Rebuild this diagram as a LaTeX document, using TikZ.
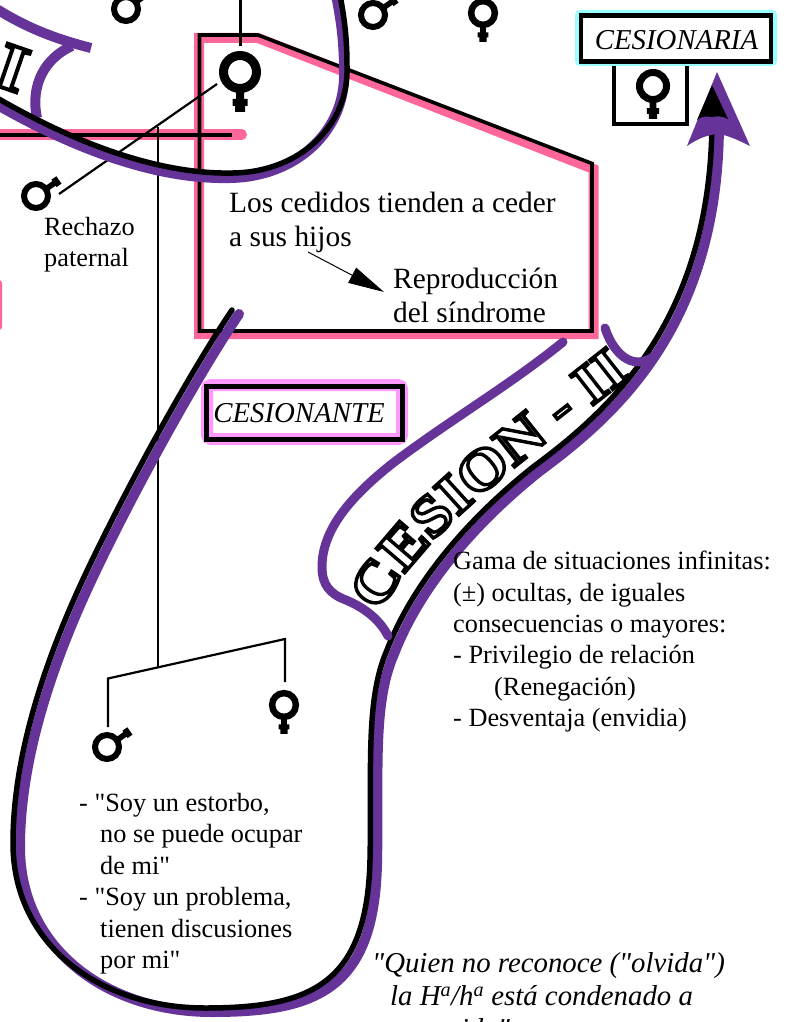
\documentclass[tikz,border=0pt]{standalone}
\usepackage{fontspec}
\setmainfont{Liberation Serif}[Ligatures=TeXOff]
\newfontfamily\engfont[FakeStretch=1.12,FakeBold=6]{Liberation Serif Bold}
\usetikzlibrary{arrows.meta,decorations.text}
\definecolor{band}{HTML}{663399}
\definecolor{rosa}{HTML}{FF6699}
\definecolor{halo}{HTML}{99FFFF}
\definecolor{lila}{HTML}{FF99FF}
\tikzset{
  x=1pt,y=-1pt,
  ink/.style={black,line width=5.5pt,line cap=round,line join=round},
  bandline/.style={band,line width=10pt,line cap=round,line join=round},
  thin link/.style={black,line width=2.2pt},
  body/.style={font=\fontsize{26.3}{31.4}\selectfont,align=left,anchor=north west,inner sep=0pt},
  bigbody/.style={font=\fontsize{29.4}{34}\selectfont,align=left,anchor=north west,inner sep=0pt},
  tag/.style={font=\fontsize{28.8}{34}\selectfont\itshape,inner sep=0pt},
  pics/venus/.style={code={
    \draw[black,line width=#1pt] (0,0) circle (16.5);
    \fill[black] (-4,18) rectangle (4,34) (-7.5,27) rectangle (7.5,34) (-5,34) rectangle (5,40);
  }},
  pics/mars/.style={code={
    \draw[black,line width=6pt] (0,0) circle (12);
    \fill[black,rotate=35] (10,-2.8) rectangle (28,2.8) (22,-4.5) rectangle (28,4.5);
  }},
}
\newcommand{\inl}{\special{pdf:code 1 g 0 G}}
\newcommand{\bigcurve}{(232,310) .. controls (190,372) and (125,490) .. (85,575)
  .. controls (45,660) and (13,755) .. (13,843)
  .. controls (13,945) and (100,1008) .. (205,1008)
  .. controls (310,1008) and (367,985) .. (370,860)
  .. controls (372,770) and (365,700) .. (387,650)
  .. controls (410,590) and (460,525) .. (533,467)
  .. controls (610,410) and (712,320) .. (712,118)}
\newcommand{\topcurve}{(-8,95) .. controls (60,135) and (150,175) .. (233,173)
  .. controls (300,172) and (349,125) .. (347,67) .. controls (347,40) and (345,20) .. (339,-10)}
\begin{document}
\begin{tikzpicture}
\clip (0,0) rectangle (795,1022);
\fill[white] (0,0) rectangle (795,1022);
% named points
\coordinate (pa) at (0,134.5);
\coordinate (pb) at (242,134.5);
\coordinate (ba) at (0,135);
\coordinate (bb) at (232,135);
\coordinate (vTop) at (240,0);
\coordinate (vF) at (240,46);
\coordinate (mR) at (59,194);
\coordinate (fR) at (217,84);
\coordinate (stemTop) at (158,127);
\coordinate (stemBot) at (158,667);
\coordinate (kidM) at (108,727);
\coordinate (kidMt) at (108,678.5);
\coordinate (kidFt) at (285,639);
\coordinate (kidF) at (285,682);
\coordinate (ar1) at (308,252);
\coordinate (ar2) at (384,292);
% pink
\fill[rosa,rounded corners=3pt] (-8,280) rectangle (2,330);
\draw[rosa,line width=10pt,miter limit=10] (199,38) -- (258,38) -- (593.5,169) -- (593.5,334) -- (199,334) -- cycle;
\draw[rosa,line width=10pt,line cap=round] (pa) -- (pb);
\draw[black,line width=3.6pt] (199.5,35) -- (258,35) -- (592,163.5) -- (592,331) -- (199.5,331) -- cycle;
\draw[black,line width=4.5pt] (ba) -- (bb);
% family lines
\draw[black,line width=3pt] (vTop) -- (vF);
\draw[thin link] (mR) -- (fR);
\draw[thin link] (stemTop) -- (stemBot);
\draw[thin link] (kidM) -- (kidMt) -- (kidFt) -- (kidF);
% band I
\draw[bandline,line cap=butt] (-5,8) .. controls (30,30) and (60,40) .. (91,48);
\draw[bandline,line cap=butt] (72,46) .. controls (45,58) and (30,85) .. (37,118);
\begin{scope}[shift={(-3,5)}]
\draw[bandline] \topcurve;
\end{scope}
\draw[ink] \topcurve;
% big curve
\begin{scope}[shift={(7,4)}]
\draw[bandline] \bigcurve;
\end{scope}
\draw[ink] \bigcurve;
% arrowhead
\fill[band] (717,72) -- (750,146) .. controls (738,140) and (727,135) .. (718,134) .. controls (705,135) and (696,140) .. (687,146) -- cycle;
\fill[black] (712,85) -- (728,119) .. controls (722,116) and (718,116) .. (712,117) .. controls (706,116) and (702,116) .. (697,120) -- cycle;
% band II
\draw[bandline,line width=9pt] (563,342) .. controls (510,385) and (450,420) .. (393,463)
  .. controls (350,497) and (322,530) .. (322,567) .. controls (322,585) and (330,594) .. (346,600)
  .. controls (365,608) and (380,620) .. (388,636);
\draw[bandline,line width=9pt] (605,328) .. controls (612,350) and (630,372) .. (653,357);
% band lettering
\coordinate (bl1) at (380,612);
\coordinate (bl2) at (422,532);
\coordinate (bl3) at (515,467);
\coordinate (bl4) at (630,376);
\path[decorate,decoration={text along path,text={|\fontsize{57}{57}\engfont\inl|CESION - II},text align=center}] (bl1) .. controls (bl2) and (bl3) .. (bl4);
\node[font=\fontsize{66}{66}\engfont,inner sep=0pt,rotate=-19] (romanI) at (12,68) {\inl I};
% boxes
\draw[black,line width=4pt,fill=white] (614,61) rectangle (687,124);
\draw[halo,line width=4pt,rounded corners=3pt] (577,12) rectangle (775,64);
\node[draw=black,line width=4.7pt,fill=white,minimum width=190pt,minimum height=45.5pt] (cesionaria) at (676,38.5) {};
\node[tag] (cesionariat) at (676.5,40.5) {CESIONARIA};
\draw[lila,line width=12pt,rounded corners=4pt] (207,385) rectangle (402,439);
\node[draw=black,line width=5pt,minimum width=196.5pt,minimum height=53.5pt] (cesionante) at (304.7,413.2) {};
\node[tag] (cesionantet) at (299,413) {CESIONANTE};
% symbols
\pic at (240,72) {venus=9};
\pic[scale=.72] at (483,13) {venus=6.5};
\pic[scale=.82] at (653,86) {venus=7};
\pic[scale=.72] at (284,705) {venus=6.5};
\pic at (36,196) {mars};
\pic at (126,9) {mars};
\pic at (373,15) {mars};
\pic at (107,747) {mars};
% small arrow
\draw[black,line width=1pt,-{Triangle[length=36pt,width=17pt]}] (ar1) -- (ar2);
% text
\node[bigbody] (t1) at (229,192) {Los cedidos tienden a ceder\\a sus hijos};
\node[bigbody] (t2) at (393,268) {Reproducción\\del síndrome};
\node[body] (t3) at (44,217) {Rechazo\\paternal};
\node[body] (t4) at (453,551) {Gama de situaciones infinitas:\\(±) ocultas, de iguales\\consecuencias o mayores:\\- Privilegio de relación\\\hspace*{41pt}(Renegación)\\- Desventaja (envidia)};
\node[body] (t5) at (79,793) {- "Soy un estorbo,\\\hspace*{21pt}no se puede ocupar\\\hspace*{21pt}de mi"\\- "Soy un problema,\\\hspace*{21pt}tienen discusiones\\\hspace*{21pt}por mi"};
\node[bigbody,font=\fontsize{28.8}{33}\selectfont\itshape] (t6) at (372,952) {"Quien no reconoce ("olvida")\\\hspace*{18pt}la H\textsuperscript{a}/h\textsuperscript{a} está condenado a\\\hspace*{76pt}vida"};
\end{tikzpicture}
\end{document}
